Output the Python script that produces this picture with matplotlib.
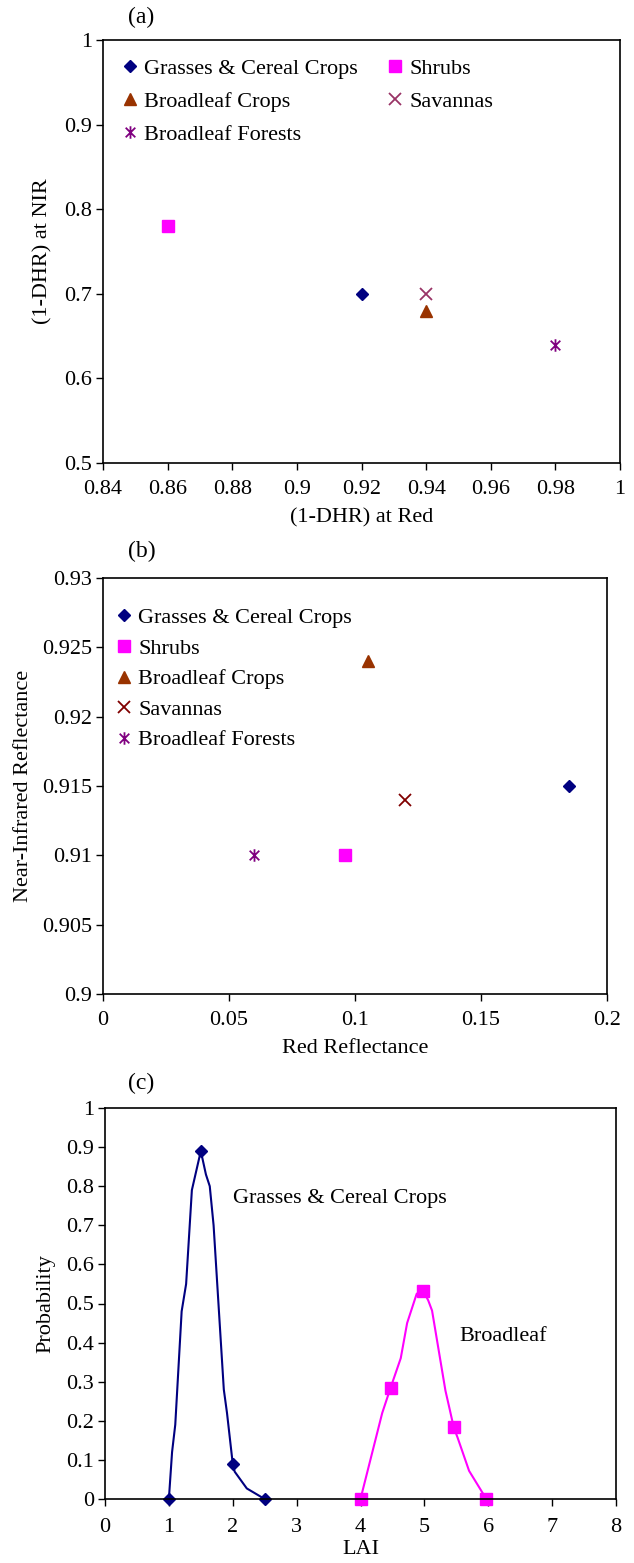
import numpy as np
import matplotlib
matplotlib.use("Agg")
import matplotlib.pyplot as plt
from matplotlib.path import Path
from matplotlib.ticker import FuncFormatter, MultipleLocator

plt.rcParams["font.family"] = ["Liberation Serif", "DejaVu Serif"]
plt.rcParams["mathtext.fontset"] = "stix"

# ---- panel (a): (1-DHR) at Red vs NIR per biome ----
biomes = ["Grasses & Cereal Crops", "Shrubs", "Broadleaf Crops", "Savannas", "Broadleaf Forests"]
dhr_red = [0.92, 0.86, 0.94, 0.94, 0.98]
dhr_nir = [0.70, 0.78, 0.68, 0.70, 0.64]

# ---- panel (b): red vs near-infrared reflectance ----
refl_red = [0.185, 0.096, 0.105, 0.12, 0.06]
refl_nir = [0.915, 0.910, 0.924, 0.914, 0.910]

# ---- panel (c): LAI probability distributions ----
grass_lai = [1.0, 1.05, 1.1, 1.2, 1.27, 1.36, 1.5, 1.58, 1.64, 1.7, 1.86, 1.91, 2.0, 2.03, 2.22, 2.5]
grass_prob = [0.0, 0.12, 0.19, 0.48, 0.55, 0.79, 0.89, 0.83, 0.80, 0.70, 0.28, 0.22, 0.09, 0.07, 0.027, 0.0]
grass_marks = [0, 6, 12, 15]

broad_lai = [4.0, 4.34, 4.47, 4.63, 4.73, 4.88, 4.98, 5.06, 5.12, 5.33, 5.39, 5.46, 5.52, 5.7, 5.97]
broad_prob = [0.0, 0.22, 0.284, 0.36, 0.45, 0.525, 0.533, 0.508, 0.482, 0.277, 0.234, 0.183, 0.157, 0.072, 0.0]
broad_marks = [0, 2, 6, 11, 14]

# asterisk marker: an x with a vertical bar through it
star = Path([(-1, -1), (1, 1), (-1, 1), (1, -1), (0, -1.3), (0, 1.3)],
            [Path.MOVETO, Path.LINETO, Path.MOVETO, Path.LINETO, Path.MOVETO, Path.LINETO])

styles_a = [
    dict(marker="D", color="#000080", ms=6),
    dict(marker="s", color="#FF00FF", ms=8),
    dict(marker="^", color="#993300", ms=8),
    dict(marker="x", color="#993366", ms=8, mew=1.3),
    dict(marker=star, color="#800080", ms=9, mew=1.3),
]
styles_b = [dict(s) for s in styles_a]
styles_b[3]["color"] = "#800000"

fmt = FuncFormatter(lambda v, p: f"{v:.10g}")
FS = 16


def style_axes(ax, xpad=7):
    ax.tick_params(direction="out", length=5, width=1, labelsize=FS, pad=3)
    ax.tick_params(axis="x", pad=xpad)
    for sp in ax.spines.values():
        sp.set_linewidth(1.2)
    ax.xaxis.set_major_formatter(fmt)
    ax.yaxis.set_major_formatter(fmt)


fig = plt.figure(figsize=(6.34, 15.63), dpi=100)
W, H = 634, 1563


def add_axes(l, t, r, b):
    return fig.add_axes([l / W, 1 - b / H, (r - l) / W, (b - t) / H])


leg_kw = dict(frameon=False, fontsize=FS, handletextpad=0.0, handlelength=1.3,
              borderaxespad=0.0)

# (a)
ax1 = add_axes(103, 40, 620, 463)
handles = {}
for name, x, y, st in zip(biomes, dhr_red, dhr_nir, styles_a):
    handles[name], = ax1.plot([x], [y], linestyle="none", label=name, **st)
ax1.set_xlim(0.84, 1.0)
ax1.set_ylim(0.5, 1.0)
ax1.xaxis.set_major_locator(MultipleLocator(0.02))
ax1.yaxis.set_major_locator(MultipleLocator(0.1))
style_axes(ax1)
ax1.set_xlabel("(1-DHR) at Red", fontsize=FS, labelpad=7)
ax1.set_ylabel("(1-DHR) at NIR", fontsize=FS, labelpad=8)
order = ["Grasses & Cereal Crops", "Broadleaf Crops", "Broadleaf Forests", "Shrubs", "Savannas"]
ax1.legend([handles[n] for n in order], order, ncol=2, loc="upper left",
           bbox_to_anchor=(0.007, 0.977), labelspacing=0.55, columnspacing=1.0, **leg_kw)
fig.text(128 / W, 1 - 17 / H, "(a)", fontsize=17, va="center")

# (b)
ax2 = add_axes(103, 578, 607, 994)
for name, x, y, st in zip(biomes, refl_red, refl_nir, styles_b):
    ax2.plot([x], [y], linestyle="none", label=name, **st)
ax2.set_xlim(0, 0.2)
ax2.set_ylim(0.9, 0.93)
ax2.xaxis.set_major_locator(MultipleLocator(0.05))
ax2.yaxis.set_major_locator(MultipleLocator(0.005))
style_axes(ax2)
ax2.set_xlabel("Red Reflectance", fontsize=FS, labelpad=7)
ax2.set_ylabel("Near-Infrared Reflectance", fontsize=FS, labelpad=6)
ax2.legend(loc="upper left", bbox_to_anchor=(-0.005, 0.95), labelspacing=0.45, **leg_kw)
fig.text(128 / W, 1 - 551 / H, "(b)", fontsize=17, va="center")

# (c)
ax3 = add_axes(105, 1108, 616, 1499)
ax3.plot(grass_lai, grass_prob, color="#000080", lw=1.5, marker="D", ms=6,
         markevery=grass_marks)
ax3.plot(broad_lai, broad_prob, color="#FF00FF", lw=1.5, marker="s", ms=8,
         markevery=broad_marks)
ax3.set_xlim(0, 8)
ax3.set_ylim(0, 1)
ax3.xaxis.set_major_locator(MultipleLocator(1))
ax3.yaxis.set_major_locator(MultipleLocator(0.1))
style_axes(ax3, xpad=9)
for ln in ax3.lines:
    ln.set_clip_on(False)
ax3.set_xlabel("LAI", fontsize=FS, labelpad=2)
ax3.set_ylabel("Probability", fontsize=FS, labelpad=8)
ax3.text(2.0, 0.768, "Grasses & Cereal Crops", fontsize=FS, va="center")
ax3.text(5.55, 0.416, "Broadleaf", fontsize=FS, va="center")
fig.text(128 / W, 1 - 1083 / H, "(c)", fontsize=17, va="center")

fig.savefig("out.png", dpi=100)
